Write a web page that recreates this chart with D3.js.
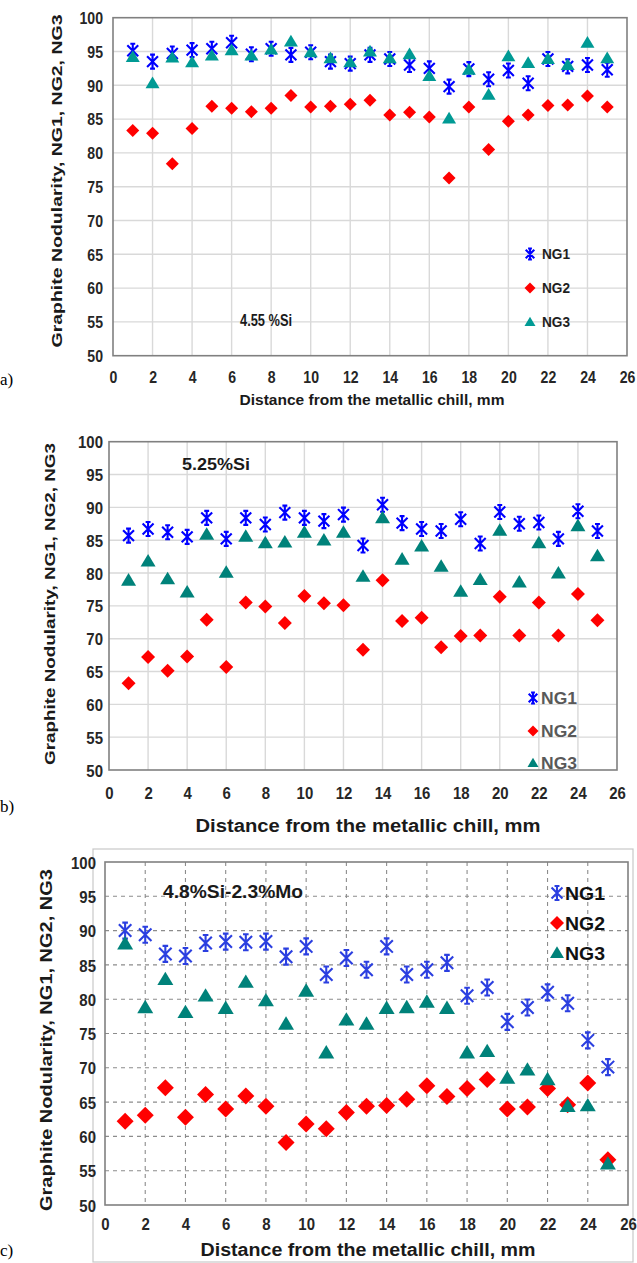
<!DOCTYPE html>
<html>
<head>
<meta charset="utf-8">
<script src="https://cdn.jsdelivr.net/npm/d3@7/dist/d3.min.js"></script>
<style>
  body { margin: 0; background: #fff; }
  svg { display: block; }
</style>
</head>
<body>
<svg id="fig" width="637" height="1263"></svg>
<script>
// Distance from the chill (mm) for every sample position
const distance = [1, 2, 3, 4, 5, 6, 7, 8, 9, 10, 11, 12, 13, 14, 15, 16, 17, 18, 19, 20, 21, 22, 23, 24, 25];

const xTickValues = [0, 2, 4, 6, 8, 10, 12, 14, 16, 18, 20, 22, 24, 26];
const yTickValues = [50, 55, 60, 65, 70, 75, 80, 85, 90, 95, 100];
const seriesNames = ["NG1", "NG2", "NG3"];

// a) 4.55 %Si
const ng1A = [95.1, 93.5, 94.7, 95.2, 95.4, 96.3, 94.6, 95.4, 94.5, 94.9, 93.5, 93.2, 94.5, 93.9, 93.0, 92.5, 89.8, 92.4, 90.9, 92.2, 90.3, 93.9, 92.8, 93.0, 92.3];
const ng2A = [83.3, 82.9, 78.4, 83.6, 86.9, 86.6, 86.1, 86.6, 88.5, 86.8, 86.9, 87.2, 87.8, 85.6, 86.0, 85.3, 76.3, 86.8, 80.5, 84.7, 85.6, 87.0, 87.1, 88.4, 86.8];
const ng3A = [94.2, 90.3, 94.1, 93.4, 94.4, 95.2, 94.4, 95.3, 96.5, 94.9, 94.0, 93.4, 95.0, 94.0, 94.6, 91.4, 85.1, 92.3, 88.6, 94.3, 93.3, 93.9, 93.0, 96.3, 94.0];

// b) 5.25%Si
const ng1B = [85.7, 86.7, 86.2, 85.5, 88.4, 85.2, 88.4, 87.4, 89.2, 88.4, 87.9, 88.9, 84.2, 90.4, 87.6, 86.7, 86.4, 88.2, 84.5, 89.3, 87.5, 87.7, 85.2, 89.4, 86.4];
const ng2B = [63.2, 67.2, 65.1, 67.3, 72.9, 65.7, 75.5, 74.9, 72.4, 76.5, 75.4, 75.1, 68.3, 78.9, 72.7, 73.2, 68.7, 70.4, 70.5, 76.4, 70.5, 75.5, 70.5, 76.8, 72.8];
const ng3B = [78.9, 81.8, 79.1, 77.1, 85.9, 80.1, 85.6, 84.6, 84.7, 86.2, 85.0, 86.2, 79.5, 88.4, 82.1, 84.1, 81.0, 77.2, 79.0, 86.5, 78.6, 84.6, 80.0, 87.2, 82.6];

// c) 4.8%Si-2.3%Mo
const ng1C = [90.0, 89.4, 86.6, 86.3, 88.2, 88.4, 88.3, 88.4, 86.2, 87.7, 83.6, 86.0, 84.3, 87.7, 83.6, 84.3, 85.3, 80.5, 81.7, 76.7, 78.8, 81.0, 79.4, 74.0, 70.1];
const ng2C = [62.2, 63.1, 67.1, 62.8, 66.1, 64.0, 65.9, 64.4, 59.1, 61.8, 61.1, 63.5, 64.4, 64.5, 65.4, 67.4, 65.8, 67.0, 68.3, 64.0, 64.3, 67.0, 64.6, 67.8, 56.6];
const ng3C = [88.1, 78.8, 82.9, 78.1, 80.5, 78.7, 82.5, 79.8, 76.4, 81.2, 72.2, 77.0, 76.4, 78.7, 78.8, 79.6, 78.7, 72.2, 72.4, 68.5, 69.7, 68.3, 64.4, 64.5, 56.0];

const panelTags = ["a)", "b)", "c)"];
const compositions = ["4.55 %Si", "5.25%Si", "4.8%Si-2.3%Mo"];
const xTitle = "Distance from the metallic chill, mm";
const yTitle = "Graphite  Nodularity, NG1, NG2, NG3";

const SANS = "'Liberation Sans', Arial, sans-serif";
const SERIF = "'Liberation Serif', 'Times New Roman', serif";

const svg = d3.select("#fig");

// Layout of the three stacked panels
const panels = [
  {
    series: [ng1A, ng2A, ng3A], note: compositions[0], tag: panelTags[0],
    box: { l: 113, t: 17.7, r: 627, b: 355.7 },
    dashed: false, gridColor: "#d9d9d9", frameColor: "#808080",
    sizes: [14, 13, 14], colors: ["#0000ff", "#ff0000", "#009a94"],
    tick: { size: 16, color: "#262626", squeeze: 0.88 },
    noteBox: { x: 240, y: 326, len: 52, size: 16 },
    legend: { x: 530, ys: [254, 288, 322], textX: 542, size: 15, len: 28, color: "#1f1f1f", msize: 11 },
    yTitle: { x: 62, cy: 181, len: 333, size: 15 },
    xTitle: { cx: 372, y: 405, len: 265, size: 15 },
    tagY: 385, xTickY: 383, yTickX: 103
  },
  {
    series: [ng1B, ng2B, ng3B], note: compositions[1], tag: panelTags[1],
    box: { l: 109, t: 441.7, r: 617, b: 770 },
    dashed: false, gridColor: "#d9d9d9", frameColor: "#808080",
    sizes: [14, 14, 15], colors: ["#0000ff", "#ff0000", "#00827a"],
    tick: { size: 17, color: "#262626", squeeze: 0.88 },
    noteBox: { x: 182, y: 470, len: 68, size: 16 },
    legend: { x: 533, ys: [698, 731, 763], textX: 541, size: 17, len: 36, color: "#595959", msize: 11 },
    yTitle: { x: 55, cy: 604, len: 322, size: 15 },
    xTitle: { cx: 368, y: 832, len: 345, size: 18 },
    tagY: 812, xTickY: 799, yTickX: 103
  },
  {
    series: [ng1C, ng2C, ng3C], note: compositions[2], tag: panelTags[2],
    box: { l: 105, t: 862, r: 628, b: 1205 },
    dashed: true, gridColor: "#8c8c8c", frameColor: "#808080",
    sizes: [16, 17, 16], colors: ["#2b3fe0", "#ff0000", "#00827a"],
    tick: { size: 17, color: "#262626", squeeze: 0.88 },
    noteBox: { x: 163, y: 898, len: 140, size: 18 },
    legend: { x: 557, ys: [893, 923, 953], textX: 565, size: 19, len: 40, color: "#111111", msize: 14 },
    yTitle: { x: 52, cy: 1040, len: 342, size: 16 },
    xTitle: { cx: 368, y: 1256, len: 335, size: 18 },
    tagY: 1256, xTickY: 1230, yTickX: 96,
    outer: { x: 93, y: 849, w: 540, h: 413 }
  }
];

// Marker shapes: asterisk (NG1), diamond (NG2), triangle (NG3)
function asteriskPath(s) {
  const h = s / 2, d = h * 0.78, c = h * 0.35;
  return `M${-d},${-d}L${d},${d}M${-d},${d}L${d},${-d}M0,${-h}L0,${h}` +
         `M${-c},${-h}L${c},${-h}M${-c},${h}L${c},${h}`;
}
function diamondPath(s) {
  const h = s / 2;
  return `M0,${-h}L${h},0L0,${h}L${-h},0Z`;
}
function trianglePath(s) {
  const h = s / 2;
  return `M0,${-h * 0.95}L${h},${h * 0.72}L${-h},${h * 0.72}Z`;
}

function drawMarker(g, kind, size, color) {
  if (kind === 0) {
    g.append("path").attr("d", asteriskPath(size))
      .attr("fill", "none").attr("stroke", color).attr("stroke-width", 2.1);
  } else if (kind === 1) {
    g.append("path").attr("d", diamondPath(size)).attr("fill", color);
  } else {
    g.append("path").attr("d", trianglePath(size)).attr("fill", color);
  }
}

panels.forEach(p => {
  const { l, t, r, b } = p.box;
  const x = d3.scaleLinear().domain([0, 26]).range([l, r]);
  const y = d3.scaleLinear().domain([50, 100]).range([b, t]);
  const g = svg.append("g");

  if (p.outer) {
    g.append("rect").attr("x", p.outer.x).attr("y", p.outer.y)
      .attr("width", p.outer.w).attr("height", p.outer.h)
      .attr("fill", "none").attr("stroke", "#c8c8c8").attr("stroke-width", 1.2);
  }

  // Gridlines
  const grid = g.append("g")
    .attr("stroke", p.gridColor).attr("stroke-width", p.dashed ? 1.1 : 1.4)
    .attr("stroke-dasharray", p.dashed ? "4,4" : null);
  grid.selectAll("line.h").data(yTickValues.slice(1, -1)).join("line")
    .attr("x1", l).attr("x2", r).attr("y1", d => y(d)).attr("y2", d => y(d));
  grid.selectAll("line.v").data(xTickValues.slice(1, -1)).join("line")
    .attr("y1", t).attr("y2", b).attr("x1", d => x(d)).attr("x2", d => x(d));

  // Frame
  g.append("rect").attr("x", l).attr("y", t).attr("width", r - l).attr("height", b - t)
    .attr("fill", "none").attr("stroke", p.frameColor).attr("stroke-width", 1.6);

  // Axes (labels only; the frame carries the axis lines)
  const xAxis = g.append("g").attr("transform", `translate(0,${p.xTickY})`)
    .call(d3.axisBottom(x).tickValues(xTickValues).tickSize(0).tickPadding(0));
  xAxis.select(".domain").remove();
  xAxis.selectAll("text").attr("y", 0).attr("dy", "0")
    .attr("transform", `scale(${p.tick.squeeze},1)`)
    .attr("font-family", SANS).attr("font-size", p.tick.size)
    .attr("font-weight", "bold").attr("fill", p.tick.color);

  const yAxis = g.append("g").attr("transform", `translate(${p.yTickX},0)`)
    .call(d3.axisLeft(y).tickValues(yTickValues).tickSize(0).tickPadding(0));
  yAxis.select(".domain").remove();
  yAxis.selectAll("text").attr("x", 0).attr("dy", "0.36em")
    .attr("transform", `scale(${p.tick.squeeze},1)`)
    .attr("font-family", SANS).attr("font-size", p.tick.size)
    .attr("font-weight", "bold").attr("fill", p.tick.color);

  // Axis titles
  g.append("text").attr("x", p.xTitle.cx).attr("y", p.xTitle.y)
    .attr("text-anchor", "middle").attr("font-family", SANS).attr("font-weight", "bold")
    .attr("font-size", p.xTitle.size).attr("fill", "#1a1a1a")
    .attr("textLength", p.xTitle.len).attr("lengthAdjust", "spacingAndGlyphs")
    .text(xTitle);

  g.append("text")
    .attr("transform", `translate(${p.yTitle.x},${p.yTitle.cy}) rotate(-90)`)
    .attr("text-anchor", "middle").attr("font-family", SANS).attr("font-weight", "bold")
    .attr("font-size", p.yTitle.size).attr("fill", "#1a1a1a")
    .attr("textLength", p.yTitle.len).attr("lengthAdjust", "spacingAndGlyphs")
    .text(yTitle);

  // Composition note
  g.append("text").attr("x", p.noteBox.x).attr("y", p.noteBox.y)
    .attr("font-family", SANS).attr("font-size", p.noteBox.size)
    .attr("font-weight", "bold").attr("fill", "#1a1a1a")
    .attr("textLength", p.noteBox.len).attr("lengthAdjust", "spacingAndGlyphs")
    .text(p.note);

  // Panel tag
  svg.append("text").attr("x", 0).attr("y", p.tagY)
    .attr("font-family", SERIF).attr("font-size", 17).attr("fill", "#000").text(p.tag);

  // Data points: NG1, then NG2, then NG3 drawn on top
  p.series.forEach((vals, k) => {
    const pts = g.append("g").selectAll("g").data(vals).join("g")
      .attr("transform", (d, i) => `translate(${x(distance[i])},${y(d)})`);
    pts.each(function () { drawMarker(d3.select(this), k, p.sizes[k], p.colors[k]); });
  });

  // Legend
  seriesNames.forEach((name, k) => {
    const lg = g.append("g").attr("transform", `translate(${p.legend.x},${p.legend.ys[k]})`);
    drawMarker(lg, k, p.legend.msize, p.colors[k]);
    g.append("text").attr("x", p.legend.textX).attr("y", p.legend.ys[k]).attr("dy", "0.36em")
      .attr("font-family", SANS).attr("font-size", p.legend.size)
      .attr("font-weight", "bold").attr("fill", p.legend.color)
      .attr("textLength", p.legend.len).attr("lengthAdjust", "spacingAndGlyphs")
      .text(name);
  });
});
</script>
</body>
</html>
